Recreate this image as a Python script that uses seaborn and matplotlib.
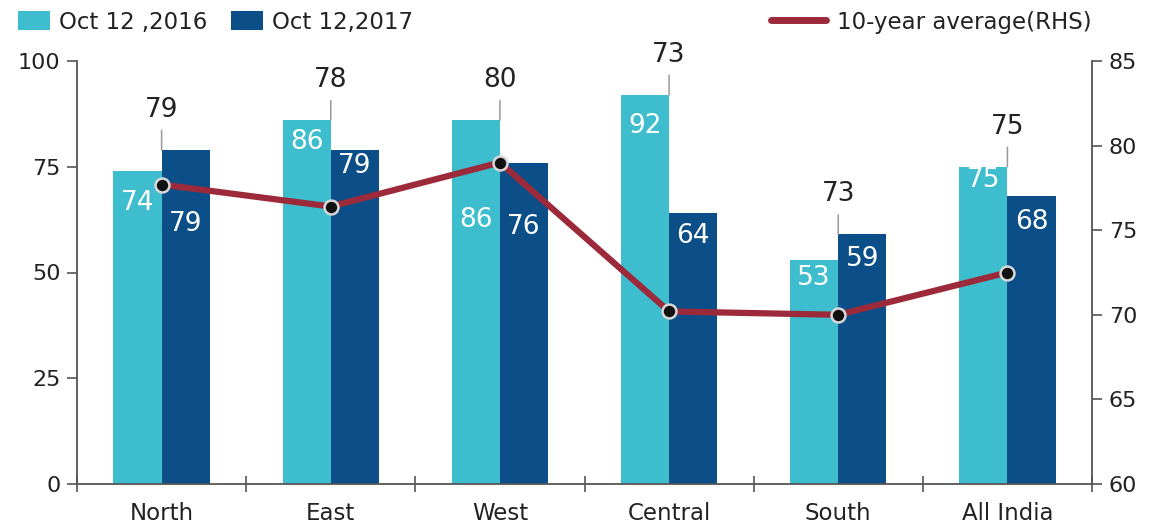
import numpy as np
import pandas as pd
import matplotlib
matplotlib.use("Agg")
import matplotlib.pyplot as plt
import seaborn as sns
from matplotlib.patches import Patch
from matplotlib.lines import Line2D

# ---------------- data ----------------
categories = ["North", "East", "West", "Central", "South", "All India"]
oct_2016 = [74, 86, 86, 92, 53, 75]
oct_2017 = [79, 79, 76, 64, 59, 68]
avg_10yr = [77.7, 76.4, 79.0, 70.2, 70.0, 72.5]
avg_labels = ["79", "78", "80", "73", "73", "75"]
series_names = ["Oct 12 ,2016", "Oct 12,2017"]
line_name = "10-year average(RHS)"
left_ticks = [0, 25, 50, 75, 100]
right_ticks = [60, 65, 70, 75, 80, 85]

# ---------------- layout / style ----------------
# distance (px) from bar top to centre of the in-bar value label
off_2016 = [32, 22, 100, 31, 18, 13]
off_2017 = [74, 16, 64, 23, 25, 26]
C16, C17, CLINE = "#3dbdcd", "#0c4f88", "#9c2a3a"
TXT = "#222222"
AX = "#555555"
PX2PT = 72 / 100

sns.set_theme(style="white")
plt.rcParams["font.family"] = ["DejaVu Sans"]

df = pd.DataFrame({
    "region": categories * 2,
    "value": oct_2016 + oct_2017,
    "series": [series_names[0]] * len(categories) + [series_names[1]] * len(categories),
})

W, H = 1156, 529
fig = plt.figure(figsize=(W / 100, H / 100), dpi=100)
fig.patch.set_facecolor("white")
ax = fig.add_axes([77 / W, 1 - 484 / H, (1092 - 77) / W, (484 - 61) / H])

sns.barplot(data=df, x="region", y="value", hue="series", order=categories,
            hue_order=series_names, palette=[C16, C17], width=0.57,
            saturation=1, edgecolor="none", linewidth=0, legend=False, ax=ax)

ax.set_ylim(0, 100)
ax.set_xlim(-0.5, len(categories) - 0.5)
ax.set_yticks(left_ticks)
ax.set_xlabel("")
ax.set_ylabel("")
for s in ["top", "right"]:
    ax.spines[s].set_visible(False)
for s in ["left", "bottom"]:
    ax.spines[s].set_color(AX)
    ax.spines[s].set_linewidth(1.3)
ax.tick_params(axis="y", which="major", left=True, length=7, width=1.2,
               color=AX, pad=5, labelsize=16, labelcolor=TXT)
ax.tick_params(axis="x", which="major", bottom=False, length=0, pad=13,
               labelsize=16.5, labelcolor=TXT)
ax.set_xticks(np.arange(-0.5, len(categories), 1.0), minor=True)
ax.tick_params(axis="x", which="minor", bottom=True, direction="inout",
               length=12, width=1.2, color=AX)

# in-bar value labels
for cont, vals, offs in [(ax.containers[0], oct_2016, off_2016),
                         (ax.containers[1], oct_2017, off_2017)]:
    for bar, v, o in zip(cont, vals, offs):
        x = bar.get_x() + bar.get_width() / 2
        ax.annotate(str(v), xy=(x, bar.get_height()), xytext=(0, -o * PX2PT),
                    textcoords="offset points", ha="center", va="center",
                    color="white", fontsize=19, zorder=5)

# 10-year average labels with leader lines
for i, lab in enumerate(avg_labels):
    top = max(oct_2016[i], oct_2017[i])
    ax.annotate(lab, xy=(i, top), xytext=(0, 27 * PX2PT), textcoords="offset points",
                ha="center", va="bottom", fontsize=19, color=TXT, annotation_clip=False,
                arrowprops=dict(arrowstyle="-", color="#999999", lw=1.1,
                                shrinkA=3, shrinkB=0))

# line on right axis
ax2 = ax.twinx()
sns.lineplot(x=np.arange(len(categories)), y=avg_10yr, ax=ax2, color=CLINE,
             linewidth=4.5, marker="o", markersize=10, markerfacecolor="#111111",
             markeredgecolor="#d8d8d8", markeredgewidth=1.8, zorder=6)
ax2.set_ylim(60, 85)
ax2.set_yticks(right_ticks)
ax2.set_xlim(-0.5, len(categories) - 0.5)
for s in ["top", "left", "bottom"]:
    ax2.spines[s].set_visible(False)
ax2.spines["right"].set_color(AX)
ax2.spines["right"].set_linewidth(1.3)
ax2.tick_params(axis="y", right=True, length=7, width=1.2, color=AX, pad=5,
                labelsize=16, labelcolor=TXT)
ax2.set_ylabel("")

# legends
h1 = [Patch(facecolor=C16, edgecolor="none"), Patch(facecolor=C17, edgecolor="none")]
leg1 = fig.legend(h1, series_names, loc="center left",
                  bbox_to_anchor=(18 / W, 1 - 22 / H), ncol=2, frameon=False,
                  fontsize=16.5, handlelength=1.4, handleheight=0.85,
                  handletextpad=0.4, columnspacing=1.0, borderpad=0, borderaxespad=0)
for t in leg1.get_texts():
    t.set_color(TXT)
h2 = [Line2D([0], [0], color=CLINE, lw=5)]
leg2 = fig.legend(h2, [line_name], loc="center right",
                  bbox_to_anchor=(1092 / W, 1 - 22 / H), frameon=False,
                  fontsize=16.5, handlelength=2.4, handletextpad=0.5,
                  borderpad=0, borderaxespad=0)
for t in leg2.get_texts():
    t.set_color(TXT)

fig.savefig("out.png", dpi=100)
